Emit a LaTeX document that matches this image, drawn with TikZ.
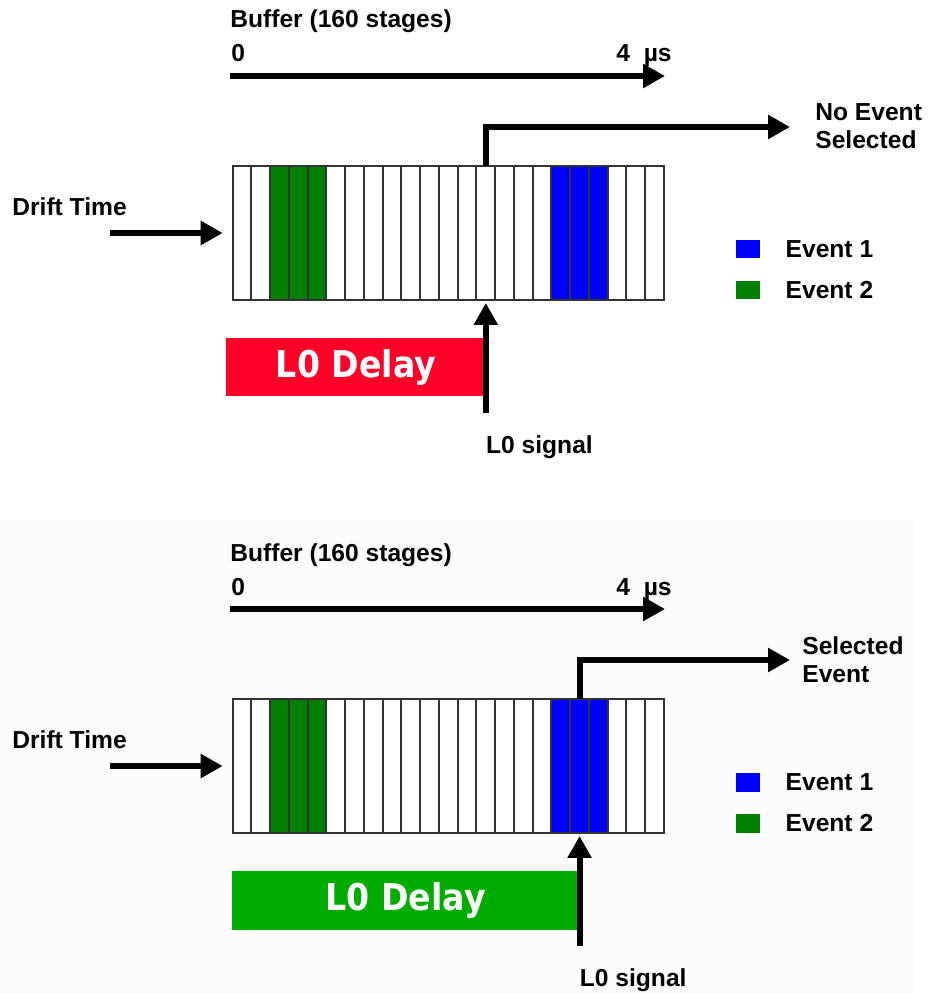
\documentclass[tikz,border=0pt]{standalone}
\usepackage{fontspec}
\setmainfont{Liberation Sans}
\newfontfamily\delayfont{DejaVu Sans Condensed}
\usetikzlibrary{arrows.meta,positioning}
\definecolor{evone}{RGB}{0,0,255}
\definecolor{evtwo}{RGB}{0,128,0}
\definecolor{delayred}{RGB}{255,0,40}
\definecolor{delaygreen}{RGB}{0,172,0}
\tikzset{
  lbl/.style={font=\fontsize{14}{15.9}\selectfont\bfseries,inner sep=0},
  cell/.style={draw=black!80,line width=1.1pt,minimum width=0.375cm,minimum height=2.68cm,inner sep=0,outer sep=0},
  legsq/.style={minimum width=0.48cm,minimum height=0.38cm,inner sep=0},
  delaybox/.style={minimum height=1.18cm,inner sep=0,text=white,font=\delayfont\bfseries\fontsize{21}{24}\selectfont},
  thickarr/.style={line width=0.12cm,-{Triangle[length=0.44cm,width=0.46cm]}}
}
\begin{document}
\begin{tikzpicture}[x=0.02cm,y=-0.02cm]
\useasboundingbox (0,0) rectangle (928,993);
\fill[gray!2] (0,520) rectangle (915,993);
\foreach \p/\dy/\k/\col/\dw/\outx/\outtxt in
  {t/0/14/delayred/259/815/{No Event\\Selected},
   b/533/19/delaygreen/347/802/{Selected\\Event}}{
\begin{scope}[shift={(0,\dy)}]
% buffer with 23 cells
\foreach \c [count=\i] in {white,white,evtwo,evtwo,evtwo,white,white,white,white,white,white,white,
                           white,white,white,white,white,evone,evone,evone,white,white,white}
  \node[cell,fill=\c] (\p-\i) at ({232.7+(\i-0.5)*18.75},233) {};
% time axis
\node[lbl,anchor=base west] (\p-buf) at (230,28) {Buffer (160 stages)};
\node[lbl,anchor=base west] (\p-zero) at (231,62) {0};
\node[lbl,anchor=base east] (\p-four) at (672,62) {4\hspace{4pt} µs};
\coordinate (\p-ts) at (230,76);
\coordinate (\p-te) at (665,76);
\draw[thickarr] (\p-ts) -- (\p-te);
% input
\node[lbl,anchor=base west] (\p-drift) at (12,215) {Drift Time};
\coordinate (\p-din) at (110,233);
\draw[thickarr,shorten >=0.2cm] (\p-din) -- (\p-1.west);
% output
\coordinate (\p-out) at (790,127);
\draw[thickarr] (\p-\k.north) |- (\p-out);
\node[lbl,anchor=north west,align=left] (\p-res) at (\outx,103) {\outtxt};
% trigger
\node[delaybox,fill=\col,minimum width=\dw*0.02cm,anchor=east] (\p-delay) at (\p-\k.center |- 0,367) {L0 Delay};
\coordinate (\p-foot) at (\p-\k.south |- 0,413);
\draw[thickarr,shorten >=0.06cm] (\p-foot) -- (\p-\k.south);
\node[lbl,anchor=north west] (\p-sig) at ([yshift=-0.44cm]\p-foot) {L0 signal};
% legend
\node[legsq,fill=evone] (\p-sq1) at (748,249) {};
\node[lbl,right=0.5cm of \p-sq1] (\p-ev1) {Event 1};
\node[legsq,fill=evtwo] (\p-sq2) at (748,290) {};
\node[lbl,right=0.5cm of \p-sq2] (\p-ev2) {Event 2};
\end{scope}
}
\end{tikzpicture}
\end{document}
